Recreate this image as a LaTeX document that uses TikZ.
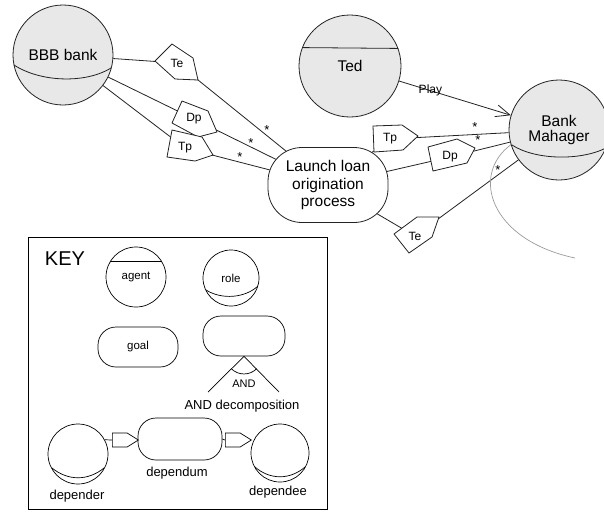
\documentclass[tikz,border=0pt]{standalone}
\usepackage{fontspec}
\setmainfont{Liberation Sans}
\usetikzlibrary{shapes.symbols,arrows.meta}
\pgfdeclarelayer{background}
\pgfsetlayers{background,main}
\definecolor{cfill}{RGB}{232,232,232}
\definecolor{arcgray}{RGB}{155,155,155}
\definecolor{ln}{RGB}{35,35,35}
\begin{document}
\begin{tikzpicture}[x=1pt,y=-1pt,
  actor/.style={circle, draw=ln, line width=0.8pt, fill=cfill, inner sep=0pt,
     minimum size=#1, font=\fontsize{15.5}{16}\selectfont, align=center},
  depbox/.style={draw=ln, line width=0.8pt, fill=white, line join=round},
  lbl/.style={inner sep=0pt, font=\fontsize{12}{14}\selectfont},
  link/.style={draw=ln, line width=0.8pt},
  garc/.style={draw=arcgray, line width=0.7pt},
  astx/.style={inner sep=0pt, font=\fontsize{13}{14}\selectfont},
  kcirc/.style={circle, draw=black, line width=0.7pt, fill=white, inner sep=0pt,
     minimum size=#1, font=\fontsize{11.5}{13}\selectfont},
  kgoal/.style={draw=black, line width=0.7pt, rounded corners=18pt, fill=white,
     inner sep=0pt, font=\fontsize{11.5}{13}\selectfont},
  kfont/.style={inner sep=0pt, font=\fontsize{13}{15}\selectfont},
  dshape/.style={signal, signal to=east, signal pointer angle=64, draw=black,
     line width=0.7pt, fill=white, inner sep=0pt, minimum width=26pt, minimum height=14pt}
]
\useasboundingbox (0,0) rectangle (604,512);

% ---------- main actors ----------
\node[actor=100pt] (bbb) at (63,55) {BBB bank};
\draw[ln, line width=0.8pt] (14,65) .. controls (40,82) and (85,84) .. (111,68);

\node[actor=102pt] (ted) at (350,66) {Ted};
\draw[ln, line width=0.8pt] (ted.159.3) -- (ted.20.7);

\node[actor=100pt] (bm) at (559,130) {Bank\\[-1pt]Mahager};
\draw[ln, line width=0.8pt] (512,145) .. controls (535,160) and (580,161) .. (606,148);

\node[draw=ln, line width=0.8pt, fill=white, rounded corners=34pt, minimum width=120pt,
      minimum height=75pt, align=center, inner sep=0pt,
      font=\fontsize{15.5}{17.5}\selectfont] (launch) at (328,185)
      {Launch loan\\origination\\process};

% ---------- dependency boxes ----------
\draw[depbox] (155,61) -- (172,44) -- (193,58) -- (198,80) -- (175,79) -- cycle;
\node[lbl] (te1) at (177,63) {Te};
\draw[depbox] (172,123) -- (182,101) -- (208,111) -- (217,132) -- (198,137) -- cycle;
\node[lbl] (dp1) at (194,119) {Dp};
\draw[depbox] (172,130) -- (202,137) -- (213,155) -- (195,161) -- (167,157) -- cycle;
\node[lbl] (tp1) at (185,148) {Tp};

\draw[depbox] (373,126) -- (402,125) -- (418,136) -- (403,150) -- (374,152) -- cycle;
\node[lbl] (tp2) at (390,139) {Tp};
\draw[depbox] (428,147) -- (457,139) -- (475,148) -- (467,163) -- (433,171) -- cycle;
\node[lbl] (dp2) at (450,157) {Dp};
\draw[depbox] (394,234) -- (417,217) -- (439,217) -- (432,237) -- (409,253) -- cycle;
\node[lbl] (te2) at (415,236) {Te};

% ---------- connectors ----------
\begin{pgfonlayer}{background}
\draw[link] (bbb) -- (te1.center) -- (launch.center);
\draw[link] (bbb) -- (dp1.center) -- (launch.center);
\draw[link] (bbb) -- (tp1.center) -- (launch.center);
\draw[link] (launch.center) -- (tp2.center) -- (bm);
\draw[link] (launch.center) -- (dp2.center) -- (bm);
\draw[link] (launch.center) -- (te2.center) -- (bm);
\draw[garc] (bm.197) .. controls (470,175) and (490,240) .. (575,258);
\end{pgfonlayer}

\draw[link, -{Straight Barb[length=14pt,width=12pt,line width=0.8pt]}] (ted) -- (bm)
  node[pos=0.28, lbl] (play) {Play};

\node[astx] (s1) at (267,130) {*};
\node[astx] (s2) at (251,143) {*};
\node[astx] (s3) at (240,157) {*};
\node[astx] (s4) at (475,127) {*};
\node[astx] (s5) at (478,140) {*};
\node[astx] (s6) at (498,170) {*};

% ---------- KEY ----------
\node[draw=black, line width=0.8pt, minimum width=299pt, minimum height=272pt, inner sep=0pt]
  (keybox) at (177.5,373) {};
\node[inner sep=0pt, font=\fontsize{20}{22}\selectfont] (keylbl) at (65,259) {KEY};

\node[kcirc=60pt] (agentk) at (136,277) {agent};
\draw[line width=0.7pt] (agentk.150) -- (agentk.30);

\node[kcirc=56pt] (rolek) at (231,278) {role};
\draw[line width=0.7pt] (206,290) .. controls (222,300) and (245,298) .. (258,286);

\node[kgoal, minimum width=80pt, minimum height=40pt] (goalk) at (138,347) {goal};
\node[kgoal, minimum width=82pt, minimum height=40pt] (andk) at (244,336) {};
\coordinate (andl) at (208,392);
\coordinate (andr) at (279,392);
\draw[line width=0.7pt] (andl) -- (andk.south) -- (andr);
\draw[line width=0.7pt] (231.3,368.7) .. controls (238.3,375.7) and (249.7,375.7) .. (256.7,368.7);
\node[inner sep=0pt, font=\fontsize{11}{12}\selectfont] (andlbl) at (244,384) {AND};
\node[kfont] (anddec) at (242,406) {AND decomposition};

\node[kcirc=60pt] (depr) at (78,454) {};
\draw[line width=0.7pt] (52,468) .. controls (68,481) and (88,481) .. (104,468);
\node[kgoal, minimum width=84pt, minimum height=42pt] (dependum) at (180,439) {};
\node[kcirc=58pt] (depe) at (280,453) {};
\draw[line width=0.7pt] (255,467) .. controls (270,480) and (290,480) .. (305,467);

\node[dshape, anchor=west] (dk1) at (112,440) {};
\node[dshape, anchor=west] (dk2) at (225,440) {};
\draw[line width=0.7pt] (depr.28) -- (dk1.west);
\draw[line width=0.7pt] (dependum.east) -- (dk2.west);

\node[kfont] (lbl1) at (177,473) {dependum};
\node[kfont] (lbl2) at (77,496) {depender};
\node[kfont] (lbl3) at (278,492) {dependee};
\end{tikzpicture}
\end{document}
